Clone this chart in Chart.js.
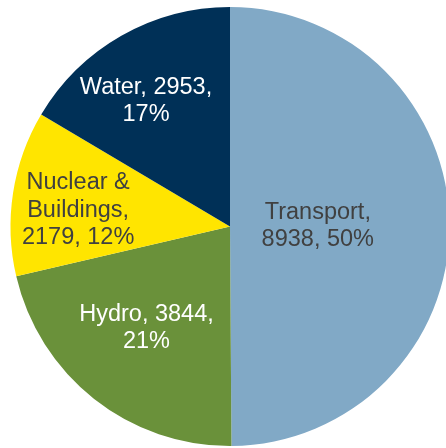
<!DOCTYPE html>
<html>
<head>
<meta charset="utf-8">
<script src="https://cdn.jsdelivr.net/npm/chart.js@4/dist/chart.umd.min.js"></script>
<style>
  html, body { margin: 0; padding: 0; background: #fff; overflow: hidden; }
  #wrap { width: 460px; height: 448px; }
</style>
</head>
<body>
<div id="wrap"><canvas id="pieChart" width="460" height="448"></canvas></div>
<script>
// --- Data ---
const categories = ['Transport', 'Hydro', 'Nuclear & Buildings', 'Water'];
const values = [8938, 3844, 2179, 2953];
const percents = [50, 21, 12, 17];
// label lines as shown on the picture
const labelLines = [
  ['Transport,', '8938, 50%'],
  ['Hydro, 3844,', '21%'],
  ['Nuclear &', 'Buildings,', '2179, 12%'],
  ['Water, 2953,', '17%']
];

const colors = ['#81A9C6', '#6A913A', '#FFE500', '#003057'];
const textColors = ['#404040', '#ffffff', '#404040', '#ffffff'];
// where each label sits: fraction of radius along the slice middle, plus a nudge
const labelPlace = [
  { r: 0.40, dx: 0, dy: 0 },
  { r: 0.60, dx: -2, dy: -2 },
  { r: 0.70, dx: 0, dy: 7 },
  { r: 0.69, dx: -9, dy: 6 }
];

// --- Plugin: draw labels inside slices ---
const sliceLabels = {
  id: 'sliceLabels',
  afterDatasetsDraw(chart) {
    const ctx = chart.ctx;
    const meta = chart.getDatasetMeta(0);
    ctx.save();
    ctx.font = '23.5px "Liberation Sans", Arial, sans-serif';
    ctx.textAlign = 'center';
    ctx.textBaseline = 'middle';
    meta.data.forEach((arc, i) => {
      const mid = (arc.startAngle + arc.endAngle) / 2;
      const p = labelPlace[i];
      const cx = arc.x + Math.cos(mid) * arc.outerRadius * p.r + p.dx;
      const cy = arc.y + Math.sin(mid) * arc.outerRadius * p.r + p.dy;
      const lines = labelLines[i];
      const lh = 27.5;
      ctx.fillStyle = textColors[i];
      lines.forEach((t, k) => {
        ctx.fillText(t, cx, cy + (k - (lines.length - 1) / 2) * lh);
      });
    });
    ctx.restore();
  }
};

// --- Pie Chart ---
const pieCtx = document.getElementById('pieChart').getContext('2d');
window.pieChart = new Chart(pieCtx, {
  type: 'pie',
  data: {
    labels: categories,
    datasets: [{
      data: values,
      backgroundColor: colors,
      borderWidth: 0
    }]
  },
  options: {
    responsive: false,
    animation: false,
    layout: { padding: { top: 7, bottom: 2, left: 10.5, right: 10.5 } },
    plugins: {
      legend: { display: false },
      tooltip: { enabled: false }
    }
  },
  plugins: [sliceLabels]
});
</script>
</body>
</html>
